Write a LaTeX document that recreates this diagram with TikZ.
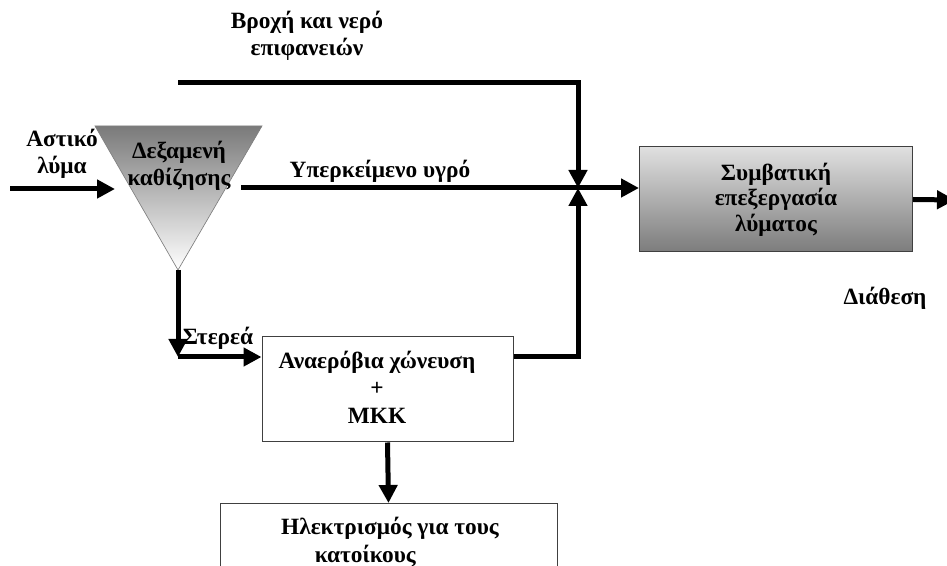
\documentclass[tikz,border=0pt]{standalone}
\usepackage{fontspec}
\setmainfont{Liberation Serif}
\usetikzlibrary{arrows.meta,positioning,calc}
\definecolor{edge}{HTML}{404040}
\definecolor{tankgray}{HTML}{7A7A7A}
\definecolor{convtop}{HTML}{E0E0E0}
\definecolor{convbot}{HTML}{7C7C7C}
\tikzset{
  flow/.style={line width=3.75pt, -{Triangle[length=13.5pt,width=13.5pt]}},
  unit/.style={draw=edge, line width=0.75pt, inner sep=0pt},
  lbl/.style={font=\bfseries\fontsize{17.5}{20.5}\selectfont, align=center, inner sep=0pt},
}

\begin{document}
\begin{tikzpicture}[x=0.75pt,y=-0.75pt]
  \useasboundingbox (0,0) rectangle (947,566);

  % settling tank
  \shade[top color=tankgray, bottom color=white, draw=gray, line width=0.5pt]
    (95,126) -- (262,126) -- (178,270) coordinate (tankS) -- cycle;
  \node[lbl] (tanktxt) at (179,166) {Δεξαμενή\\καθίζησης};

  % boxes
  \node[unit, top color=convtop, middle color=white, bottom color=convbot,
        minimum width=273*0.75pt, minimum height=105*0.75pt,
        font=\bfseries\fontsize{17.5}{19}\selectfont, align=center] (conv) at (776,199.5)
        {Συμβατική\\επεξεργασία\\λύματος};
  \node[unit, fill=white, minimum width=251*0.75pt, minimum height=105*0.75pt] (digest) at (387.5,389.5) {};
  \node[lbl] (digesttxt) at (377,387) {Αναερόβια χώνευση\\+\\ΜΚΚ};
  \node[unit, fill=white, minimum width=337*0.75pt, minimum height=80*0.75pt, anchor=north] (power) at (388.5,503) {};
  \node[lbl] (powertxt) at (390,542) {Ηλεκτρισμός για τους\\κατοίκους\hspace*{37pt}};

  % labels
  \node[lbl] (inlbl) at (62,154) {Αστικό\\λύμα};
  \node[lbl] (rainlbl) at (307,36) {Βροχή και νερό\\επιφανειών};
  \node[lbl] (overlbl) at (380,171) {Υπερκείμενο υγρό};
  \node[lbl] (solidslbl) at (218,338) {Στερεά};
  \node[lbl] (displbl) at (885,298) {Διάθεση};

  % flows
  \coordinate (inflow) at (10,189);
  \coordinate (tankin) at (115,189);
  \coordinate (tankout) at (241,188);
  \coordinate (rain) at (178,83);
  \coordinate (mix) at (578,188);
  \coordinate (solids) at (178,357);
  \coordinate (exit) at (955,200);

  \draw[flow] (inflow) -- (tankin);
  \draw[flow] (rain) -| (mix);
  \draw[flow] (tankout) -- (tankout -| conv.west);
  \draw[flow] (tankS) -- (solids);
  \draw[flow] (solids) -- (solids -| digest.west);
  \draw[flow] (digest.east |- solids) -| (mix);
  \draw[flow] (digest.south) -- (power.north);
  \draw[flow] (conv.east) -- (exit);
\end{tikzpicture}
\end{document}
